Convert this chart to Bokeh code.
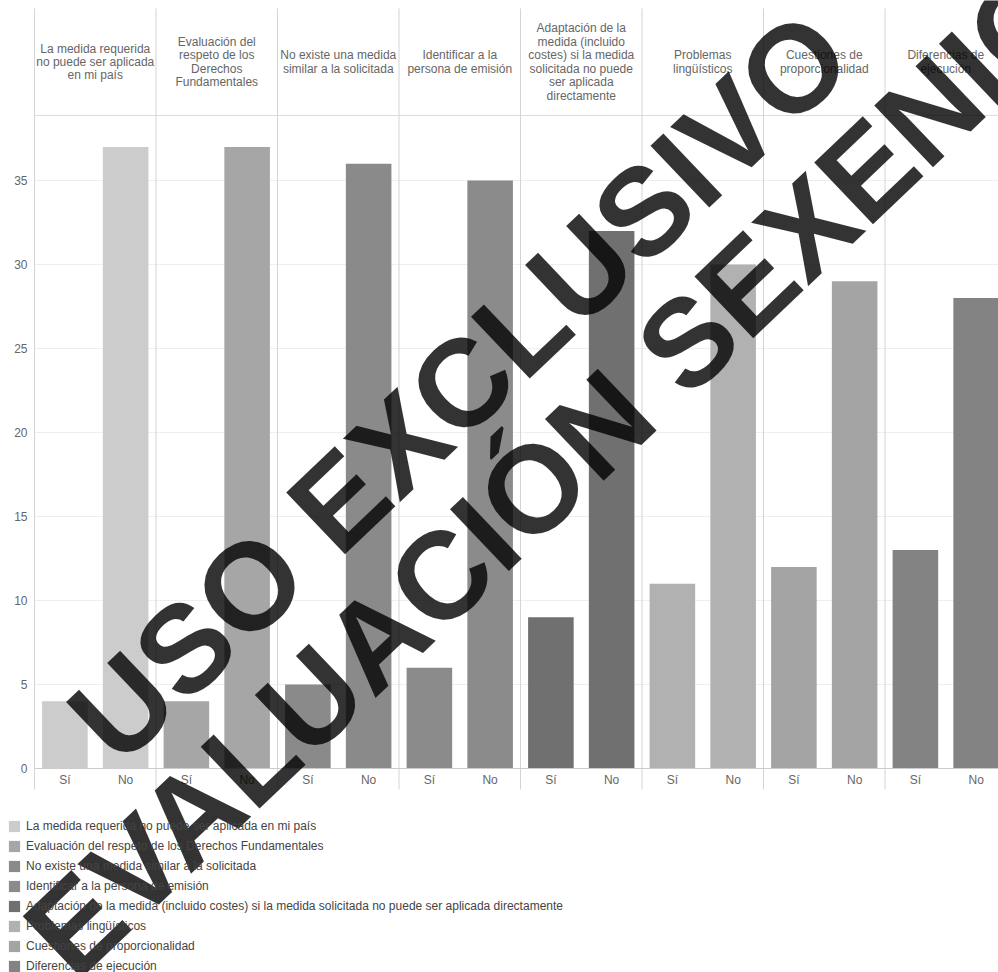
from bokeh.plotting import figure
from bokeh.models import Range1d, FixedTicker, Legend, LegendItem, Label, ColumnDataSource
from bokeh.core.properties import value
from bokeh.embed import file_html
from bokeh.resources import INLINE

# ---------------- data ----------------
categories = [
    "La medida requerida no puede ser aplicada en mi país",
    "Evaluación del respeto de los Derechos Fundamentales",
    "No existe una medida similar a la solicitada",
    "Identificar a la persona de emisión",
    "Adaptación de la medida (incluido costes) si la medida solicitada no puede ser aplicada directamente",
    "Problemas lingüísticos",
    "Cuestiones de proporcionalidad",
    "Diferencias de ejecución",
]
header_labels = [
    "La medida requerida\nno puede ser aplicada\nen mi país",
    "Evaluación del\nrespeto de los\nDerechos\nFundamentales",
    "No existe una medida\nsimilar a la solicitada",
    "Identificar a la\npersona de emisión",
    "Adaptación de la\nmedida (incluido\ncostes) si la medida\nsolicitada no puede\nser aplicada\ndirectamente",
    "Problemas\nlingüísticos",
    "Cuestiones de\nproporcionalidad",
    "Diferencias de\nejecución",
]
responses = ["Sí", "No"]
si_values = [4, 4, 5, 6, 9, 11, 12, 13]
no_values = [37, 37, 36, 35, 32, 30, 29, 28]
colors = ["#cccccc", "#a6a6a6", "#8a8a8a", "#8b8b8b", "#707070", "#b1b1b1", "#a4a4a4", "#838383"]
y_ticks = [0, 5, 10, 15, 20, 25, 30, 35]
watermark_lines = ["USO EXCLUSIVO", "EVALUACIÓN SEXENIO"]

FONT = "Liberation Sans"
n = len(categories)

# layout of the canvas in data units (frame covers the whole page)
X_START, X_END = -0.5597, 15.868
Y_START, Y_END = -12.143, 45.714
PLOT_TOP = 45.24        # top of header strip
HEADER_LINE = 38.87     # line between header strip and plot
HEADER_MID = 42.05
SEP_BOTTOM = -1.25      # separators extend below the baseline

p = figure(width=998, height=972, output_backend="svg", toolbar_location=None, title=None,
           x_range=Range1d(X_START, X_END), y_range=Range1d(Y_START, Y_END),
           min_border=0, min_border_left=0, min_border_right=0,
           min_border_top=0, min_border_bottom=0)
p.outline_line_color = None
p.background_fill_color = "white"
p.border_fill_color = "white"
p.xgrid.visible = False
p.ygrid.visible = False

# horizontal grid lines (only over the plotting area)
p.segment(x0=[0] * len(y_ticks), y0=y_ticks, x1=[X_END] * len(y_ticks), y1=y_ticks,
          line_color="#eeeeee", line_width=1)

# panel separators and header line
bounds = [2 * i for i in range(n)]
p.segment(x0=bounds, y0=[SEP_BOTTOM] * n, x1=bounds, y1=[PLOT_TOP] * n,
          line_color="#d4d4d4", line_width=1)
p.segment(x0=[0], y0=[HEADER_LINE], x1=[X_END], y1=[HEADER_LINE],
          line_color="#dddddd", line_width=1)

# bars
renderers = []
for i, cat in enumerate(categories):
    src = ColumnDataSource(dict(x=[2 * i + 0.5, 2 * i + 1.5], top=[si_values[i], no_values[i]]))
    r = p.vbar(x="x", top="top", width=0.75, source=src, fill_color=colors[i], line_color=None)
    renderers.append(r)

# header texts
p.text(x=[2 * i + 1 for i in range(n)], y=[HEADER_MID] * n, text=header_labels,
       text_align="center", text_baseline="middle", text_font=value(FONT),
       text_font_size="12px", text_color="#666666", text_line_height=0.96)

# x axis
centers = [2 * i + j + 0.5 for i in range(n) for j in range(len(responses))]
xa = p.xaxis[0]
xa.fixed_location = 0
xa.bounds = (0, X_END)
xa.ticker = FixedTicker(ticks=centers)
xa.major_label_overrides = {c: responses[k % 2] for k, c in enumerate(centers)}
xa.major_tick_line_color = None
xa.minor_tick_line_color = None
xa.major_tick_out = 0
xa.major_tick_in = 0
xa.axis_line_color = "#cccccc"
xa.major_label_text_color = "#666666"
xa.major_label_text_font = FONT
xa.major_label_text_font_size = "12px"
xa.major_label_standoff = 5

# y axis
ya = p.yaxis[0]
ya.fixed_location = 0
ya.bounds = (0, 38)
ya.ticker = FixedTicker(ticks=y_ticks)
ya.axis_line_color = None
ya.major_tick_line_color = None
ya.minor_tick_line_color = None
ya.major_tick_out = 0
ya.major_tick_in = 0
ya.major_label_text_color = "#666666"
ya.major_label_text_font = FONT
ya.major_label_text_font_size = "12px"
ya.major_label_standoff = 7

# legend (screen position measured from the bottom-left of the page)
legend = Legend(items=[LegendItem(label=c, renderers=[r]) for c, r in zip(categories, renderers)],
                location=(7, -4), orientation="vertical", padding=0, margin=0, spacing=0,
                glyph_width=14, glyph_height=14, label_height=20, label_standoff=5,
                label_text_font=FONT, label_text_font_size="12px", label_text_color="#444444",
                border_line_color=None, background_fill_alpha=0)
p.add_layout(legend)

# watermark
wm_pos = [(6.99, 22.75), (8.51, 17.70)]
for txt, (wx, wy) in zip(watermark_lines, wm_pos):
    p.add_layout(Label(x=wx, y=wy, text=txt, angle=43.6, angle_units="deg",
                       text_align="center", text_baseline="middle", text_font=FONT,
                       text_font_size="124px", text_font_style="bold",
                       text_color="black", text_alpha=0.8))

open("out.html", "w").write(file_html(p, INLINE))
